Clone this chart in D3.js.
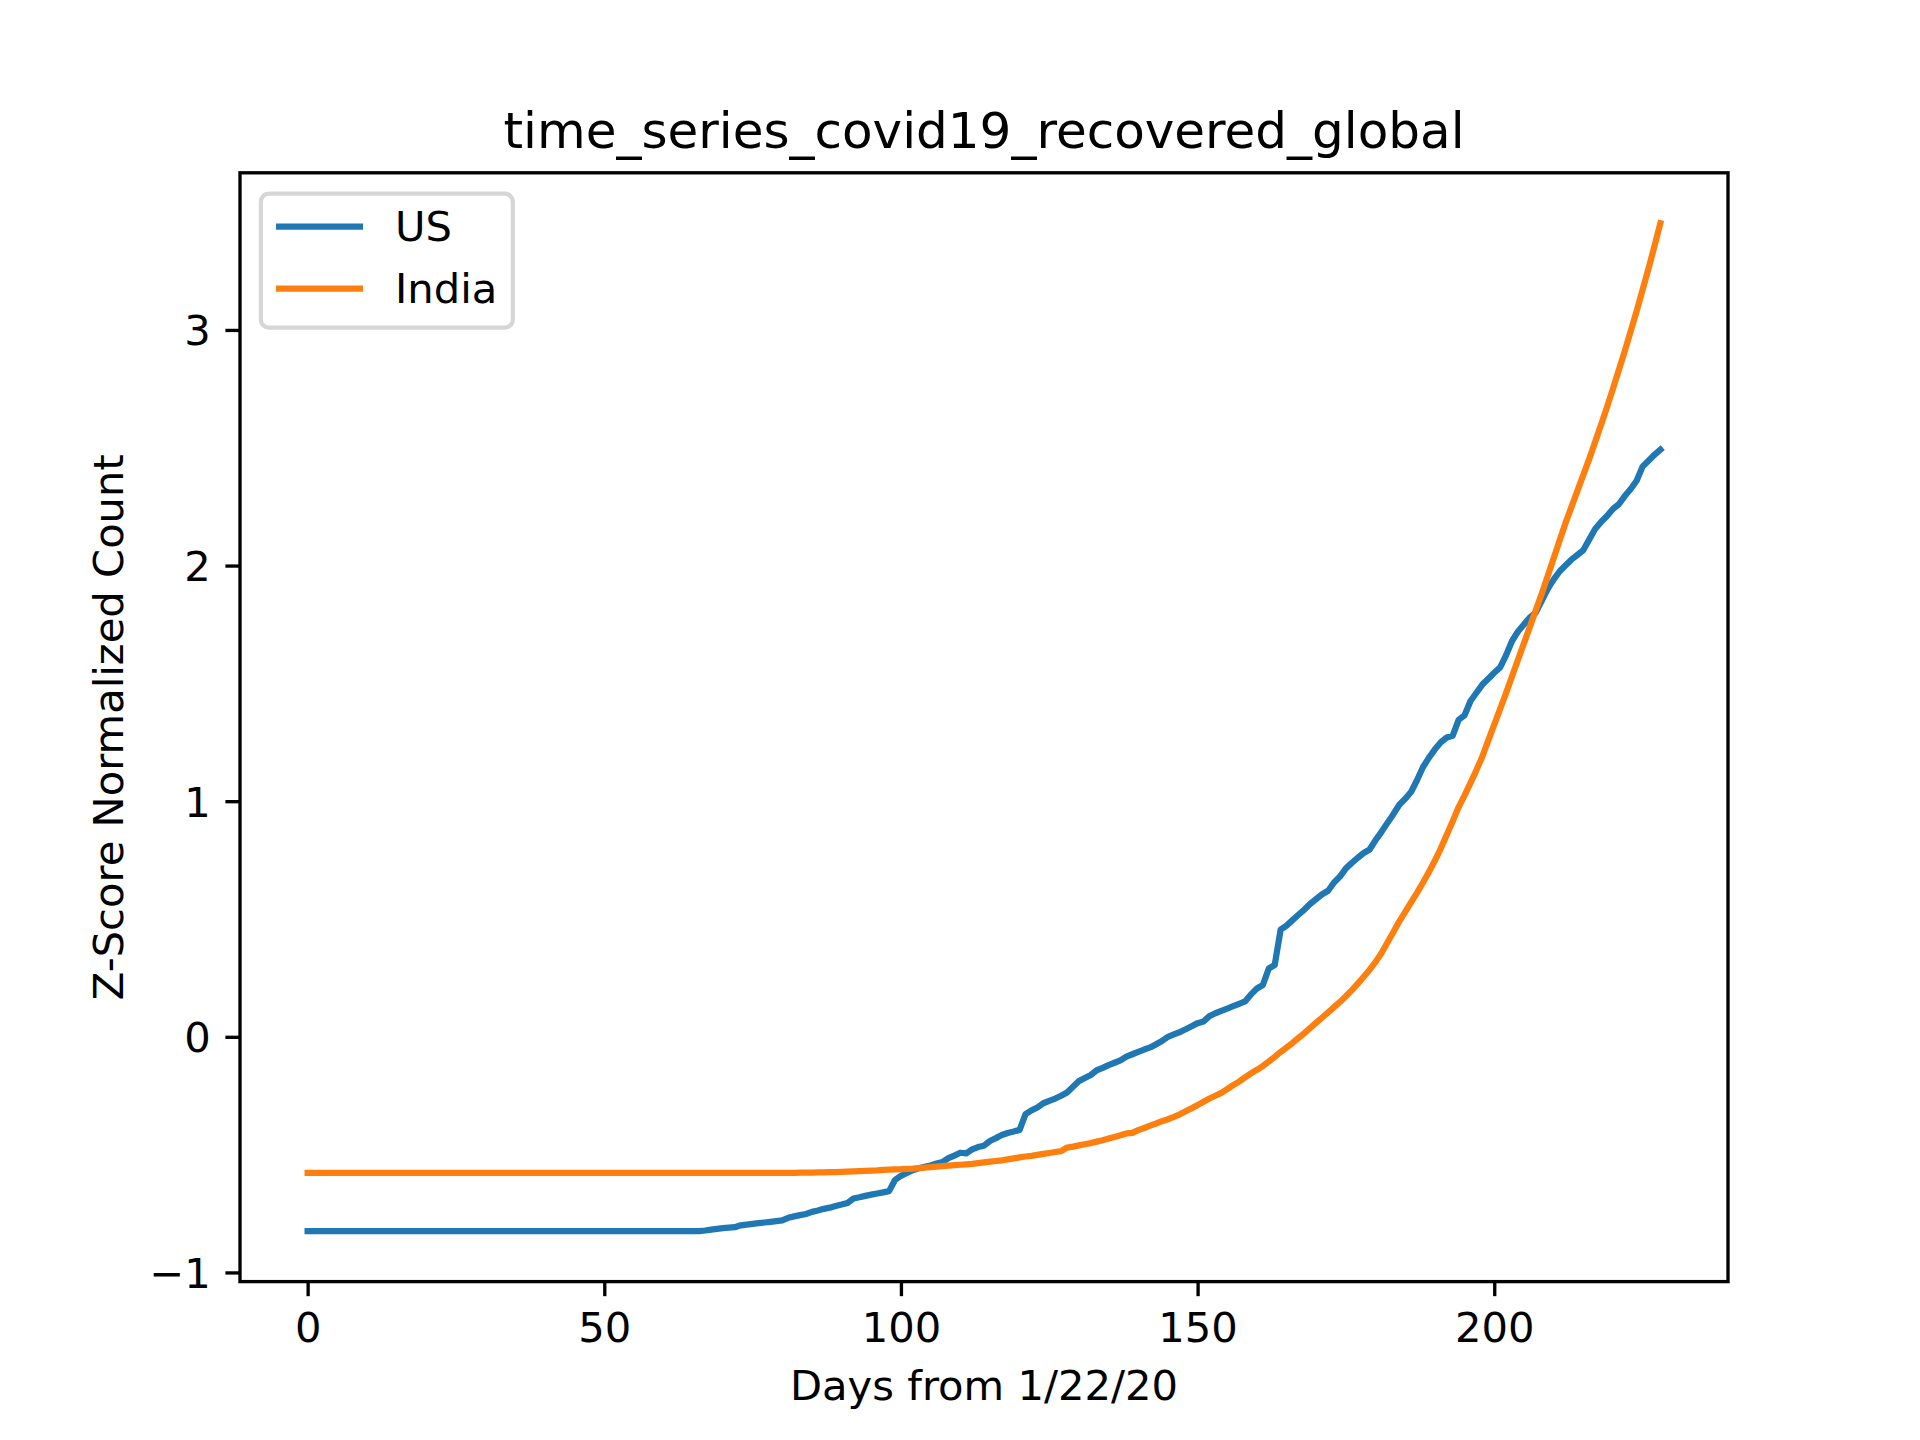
<!DOCTYPE html>
<html>
<head>
<meta charset="utf-8">
<script src="https://cdn.jsdelivr.net/npm/d3@7"></script>
<style>
  html, body { margin: 0; padding: 0; background: #fff; }
  svg { display: block; }
  text { font-family: "DejaVu Sans", sans-serif; fill: #000; }
</style>
</head>
<body>
<div id="chart"></div>
<script>
const title = "time_series_covid19_recovered_global";
const xLabel = "Days from 1/22/20";
const yLabel = "Z-Score Normalized Count";
const seriesNames = ["US", "India"];
const seriesColors = ["#1f77b4", "#ff7f0e"];
const xTicks = [0, 50, 100, 150, 200];
const yTicks = [-1, 0, 1, 2, 3];

// US: days 0..228
const usValues = [
  // 0-66 flat
  -0.825,-0.825,-0.825,-0.825,-0.825,-0.825,-0.825,-0.825,-0.825,-0.825,
  -0.825,-0.825,-0.825,-0.825,-0.825,-0.825,-0.825,-0.825,-0.825,-0.825,
  -0.825,-0.825,-0.825,-0.825,-0.825,-0.825,-0.825,-0.825,-0.825,-0.825,
  -0.825,-0.825,-0.825,-0.825,-0.825,-0.825,-0.825,-0.825,-0.825,-0.825,
  -0.825,-0.825,-0.825,-0.825,-0.825,-0.825,-0.825,-0.825,-0.825,-0.825,
  -0.825,-0.825,-0.825,-0.825,-0.825,-0.825,-0.825,-0.825,-0.825,-0.825,
  -0.825,-0.825,-0.825,-0.825,-0.825,-0.825,-0.825,
  // 67-
  -0.822,-0.818,-0.815,-0.812,-0.810,-0.808,-0.800,-0.797,-0.794,-0.791,
  -0.788,-0.785,-0.782,-0.779,-0.768,-0.762,-0.757,-0.752,-0.743,-0.737,
  -0.730,-0.725,-0.718,-0.712,-0.705,-0.686,-0.681,-0.675,-0.670,-0.665,
  -0.660,-0.655,-0.608,-0.590,-0.578,-0.566,-0.558,-0.552,-0.546,-0.538,
  -0.532,-0.515,-0.504,-0.492,-0.495,-0.478,-0.468,-0.462,-0.442,-0.430,
  -0.417,-0.408,-0.402,-0.395,-0.328,-0.312,-0.300,-0.282,-0.272,-0.262,
  -0.250,-0.236,-0.212,-0.188,-0.175,-0.162,-0.142,-0.132,-0.120,-0.110,
  -0.100,-0.084,-0.074,-0.064,-0.054,-0.045,-0.032,-0.018,0.000,0.010,
  0.020,0.032,0.045,0.058,0.065,0.088,0.100,0.110,0.120,0.130,
  0.140,0.150,0.180,0.205,0.220,0.290,0.305,0.455,0.472,0.495,
  0.518,0.540,0.565,0.585,0.605,0.620,0.655,0.680,0.715,0.738,
  0.760,0.780,0.795,0.835,0.870,0.908,0.945,0.985,1.010,1.040,
  1.090,1.145,1.185,1.220,1.250,1.270,1.278,1.345,1.365,1.425,
  1.460,1.495,1.520,1.545,1.568,1.620,1.680,1.720,1.750,1.780,
  1.800,1.850,1.900,1.940,1.975,2.000,2.025,2.045,2.065,2.110,
  2.155,2.185,2.210,2.240,2.260,2.295,2.325,2.360,2.420,2.445,
  2.470,2.492
];

// India: days 0..228
const indiaValues = [
  // 0-79 flat
  -0.577,-0.577,-0.577,-0.577,-0.577,-0.577,-0.577,-0.577,-0.577,-0.577,
  -0.577,-0.577,-0.577,-0.577,-0.577,-0.577,-0.577,-0.577,-0.577,-0.577,
  -0.577,-0.577,-0.577,-0.577,-0.577,-0.577,-0.577,-0.577,-0.577,-0.577,
  -0.577,-0.577,-0.577,-0.577,-0.577,-0.577,-0.577,-0.577,-0.577,-0.577,
  -0.577,-0.577,-0.577,-0.577,-0.577,-0.577,-0.577,-0.577,-0.577,-0.577,
  -0.577,-0.577,-0.577,-0.577,-0.577,-0.577,-0.577,-0.577,-0.577,-0.577,
  -0.577,-0.577,-0.577,-0.577,-0.577,-0.577,-0.577,-0.577,-0.577,-0.577,
  -0.577,-0.577,-0.577,-0.577,-0.577,-0.577,-0.577,-0.577,-0.577,-0.577,
  // 80-
  -0.577,-0.577,-0.577,-0.576,-0.576,-0.576,-0.575,-0.575,-0.574,-0.574,
  -0.573,-0.572,-0.571,-0.570,-0.569,-0.568,-0.567,-0.565,-0.564,-0.563,
  -0.562,-0.560,-0.559,-0.557,-0.555,-0.553,-0.551,-0.549,-0.547,-0.545,
  -0.543,-0.541,-0.539,-0.536,-0.533,-0.530,-0.527,-0.524,-0.520,-0.516,
  -0.512,-0.508,-0.505,-0.501,-0.497,-0.493,-0.489,-0.485,-0.470,-0.466,
  -0.461,-0.456,-0.451,-0.445,-0.439,-0.432,-0.425,-0.418,-0.410,-0.408,
  -0.396,-0.387,-0.377,-0.368,-0.358,-0.350,-0.340,-0.329,-0.316,-0.303,
  -0.290,-0.276,-0.262,-0.250,-0.238,-0.222,-0.205,-0.190,-0.172,-0.155,
  -0.140,-0.124,-0.105,-0.085,-0.064,-0.045,-0.026,-0.005,0.016,0.038,
  0.060,0.082,0.104,0.126,0.148,0.172,0.198,0.226,0.255,0.285,
  0.318,0.356,0.400,0.445,0.490,0.530,0.572,0.612,0.655,0.700,
  0.748,0.800,0.858,0.915,0.975,1.025,1.078,1.132,1.190,1.258,
  1.325,1.392,1.460,1.530,1.600,1.670,1.740,1.810,1.880,1.955,
  2.030,2.105,2.180,2.248,2.316,2.384,2.452,2.524,2.598,2.672,
  2.750,2.830,2.910,2.995,3.080,3.170,3.260,3.355,3.453
];

const W = 1920, H = 1440;
const PT = 300 / 72; // matplotlib at 300 dpi
const axL = 0.125 * W, axR = 0.9 * W, axT = H - 0.88 * H, axB = H - 0.11 * H;

const svg = d3.select("#chart").append("svg").attr("width", W).attr("height", H);

const series = [usValues, indiaValues];
const n = usValues.length;
const xMinD = 0, xMaxD = n - 1;
const xm = (xMaxD - xMinD) * 0.05;
const allV = usValues.concat(indiaValues);
const yMinD = d3.min(allV), yMaxD = d3.max(allV);
const ym = (yMaxD - yMinD) * 0.05;

const x = d3.scaleLinear().domain([xMinD - xm, xMaxD + xm]).range([axL, axR]);
const y = d3.scaleLinear().domain([yMinD - ym, yMaxD + ym]).range([axB, axT]);

const fs = 10 * PT; // 41.67
const tickLen = 3.5 * PT, tickPad = 3.5 * PT, spineW = 0.8 * PT;

// lines
const clipId = "clip";
svg.append("clipPath").attr("id", clipId).append("rect")
  .attr("x", axL).attr("y", axT).attr("width", axR - axL).attr("height", axB - axT);

const line = d3.line().x((d, i) => x(i)).y(d => y(d));
series.forEach((s, k) => {
  svg.append("path").datum(s)
    .attr("d", line)
    .attr("fill", "none")
    .attr("stroke", seriesColors[k])
    .attr("stroke-width", 1.5 * PT)
    .attr("stroke-linejoin", "round")
    .attr("stroke-linecap", "square")
    .attr("clip-path", `url(#${clipId})`);
});

// axes via d3
const fmt = d3.format("d");
const xAxis = svg.append("g").attr("transform", `translate(0,${axB})`)
  .call(d3.axisBottom(x).tickValues(xTicks).tickSize(tickLen).tickPadding(tickPad).tickFormat(fmt));
const yAxis = svg.append("g").attr("transform", `translate(${axL},0)`)
  .call(d3.axisLeft(y).tickValues(yTicks).tickSize(tickLen).tickPadding(tickPad).tickFormat(fmt));

[xAxis, yAxis].forEach(g => {
  g.select(".domain").remove();
  g.selectAll(".tick line").attr("stroke", "#000").attr("stroke-width", spineW);
  g.selectAll(".tick text")
    .attr("font-family", "DejaVu Sans, sans-serif")
    .attr("font-size", fs).attr("fill", "#000");
});
xAxis.selectAll(".tick text").attr("dy", null)
  .attr("y", tickLen + tickPad + 0.76 * fs);
yAxis.selectAll(".tick text").attr("dy", null)
  .attr("x", -(tickLen + tickPad)).attr("y", 15);

// spines
svg.append("rect")
  .attr("x", axL).attr("y", axT).attr("width", axR - axL).attr("height", axB - axT)
  .attr("fill", "none").attr("stroke", "#000").attr("stroke-width", spineW)
  .attr("stroke-linecap", "square");

// title
svg.append("text")
  .attr("x", (axL + axR) / 2).attr("y", axT - 6 * PT)
  .attr("text-anchor", "middle").attr("font-size", 12 * PT)
  .text(title);

// x label
svg.append("text")
  .attr("x", (axL + axR) / 2).attr("y", 1399.5)
  .attr("text-anchor", "middle").attr("font-size", fs)
  .text(xLabel);

// y label
svg.append("text")
  .attr("transform", `translate(123,${(axT + axB) / 2}) rotate(-90)`)
  .attr("text-anchor", "middle").attr("font-size", fs)
  .text(yLabel);

// legend
const lg = svg.append("g");
const lx = axL + 0.5 * fs, ly = axT + 0.5 * fs;
lg.append("rect")
  .attr("x", lx).attr("y", ly).attr("width", 252).attr("height", 134)
  .attr("rx", 8).attr("ry", 8)
  .attr("fill", "#fff").attr("fill-opacity", 0.8)
  .attr("stroke", "#d6d6d6").attr("stroke-width", 1.0 * PT);
const rowY = [226.5, 288.5];
seriesNames.forEach((name, k) => {
  lg.append("line")
    .attr("x1", 276).attr("x2", 363)
    .attr("y1", rowY[k]).attr("y2", rowY[k])
    .attr("stroke", seriesColors[k]).attr("stroke-width", 1.5 * PT);
  lg.append("text")
    .attr("x", 395).attr("y", rowY[k] + 14.5)
    .attr("font-size", fs)
    .text(name);
});
</script>
</body>
</html>
